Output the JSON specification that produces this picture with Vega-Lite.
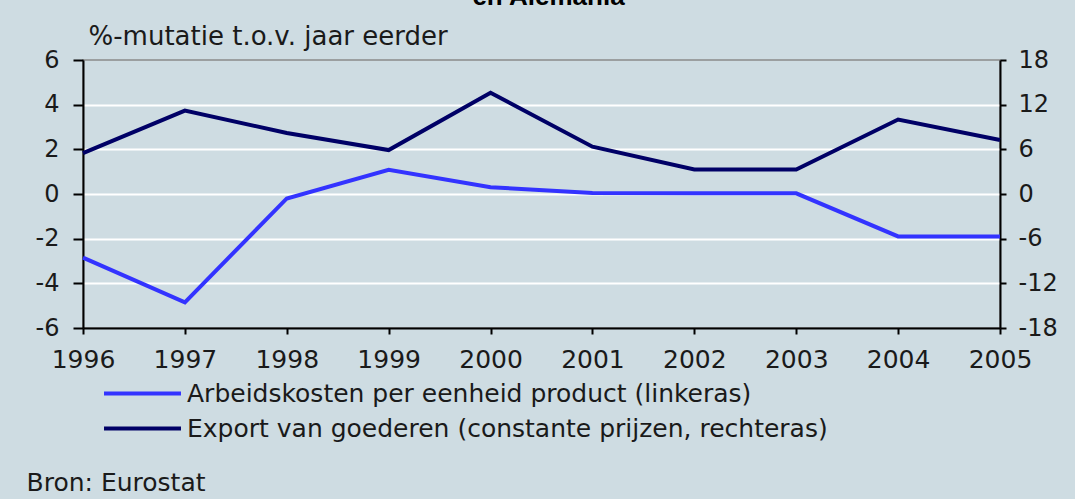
{
  "$schema": "https://vega.github.io/schema/vega-lite/v6.json",
  "width": 917,
  "height": 268,
  "autosize": {"type": "none"},
  "padding": {"left": 83, "top": 60, "right": 75, "bottom": 171},
  "background": "#cedce2",
  "title": {
    "text": "en Alemania",
    "font": "Liberation Sans",
    "fontSize": 26,
    "fontWeight": "bold",
    "color": "#000000",
    "anchor": "middle",
    "frame": "group",
    "baseline": "alphabetic",
    "offset": 6,
    "dy": 14,
    "dx": 7
  },
  "data": {
    "values": [
      {"jaar": 1996, "arbeid": -2.85, "export": 5.5},
      {"jaar": 1997, "arbeid": -4.85, "export": 11.2},
      {"jaar": 1998, "arbeid": -0.2, "export": 8.2},
      {"jaar": 1999, "arbeid": 1.08, "export": 5.9},
      {"jaar": 2000, "arbeid": 0.3, "export": 13.6},
      {"jaar": 2001, "arbeid": 0.05, "export": 6.35},
      {"jaar": 2002, "arbeid": 0.03, "export": 3.3},
      {"jaar": 2003, "arbeid": 0.03, "export": 3.3},
      {"jaar": 2004, "arbeid": -1.9, "export": 10.0},
      {"jaar": 2005, "arbeid": -1.9, "export": 7.25}
    ]
  },
  "encoding": {
    "x": {
      "field": "jaar",
      "type": "quantitative",
      "scale": {"domain": [1996, 2005], "nice": false, "zero": false},
      "axis": {
        "values": [1996, 1997, 1998, 1999, 2000, 2001, 2002, 2003, 2004, 2005],
        "format": "d",
        "grid": false,
        "tickSize": 6,
        "labelPadding": 13,
        "labelFlush": false,
        "labelFontSize": 25,
        "title": "Bron: Eurostat",
        "titleAnchor": "start",
        "titleAlign": "left",
        "titleBaseline": "alphabetic",
        "titleX": -57,
        "titleY": 162,
        "titleFont": "DejaVu Sans",
        "titleFontSize": 25,
        "titleFontWeight": "normal",
        "titleColor": "#1a1a1a"
      }
    }
  },
  "layer": [
    {
      "mark": {"type": "line", "strokeWidth": 4},
      "encoding": {
        "y": {
          "field": "arbeid",
          "type": "quantitative",
          "scale": {"domain": [-6, 6], "nice": false, "zero": false},
          "axis": {
            "orient": "left",
            "values": [-6, -4, -2, 0, 2, 4, 6],
            "labelExpr": "'' + datum.value",
            "grid": true,
            "gridColor": "#ffffff",
            "gridWidth": 2,
            "gridOpacity": {"condition": {"test": "abs(datum.value) == 6", "value": 0}, "value": 1},
            "tickSize": 10,
            "labelPadding": 14,
            "title": "%-mutatie t.o.v. jaar eerder",
            "titleAngle": 0,
            "titleAlign": "left",
            "titleAnchor": "start",
            "titleBaseline": "alphabetic",
            "titleX": 5,
            "titleY": -16,
            "titleFont": "DejaVu Sans",
            "titleFontSize": 26,
            "titleFontWeight": "normal",
            "titleColor": "#1a1a1a"
          }
        },
        "color": {"datum": "Arbeidskosten per eenheid product (linkeras)"}
      }
    },
    {
      "mark": {"type": "line", "strokeWidth": 4},
      "encoding": {
        "y": {
          "field": "export",
          "type": "quantitative",
          "scale": {"domain": [-18, 18], "nice": false, "zero": false},
          "axis": {
            "orient": "right",
            "values": [-18, -12, -6, 0, 6, 12, 18],
            "labelExpr": "'' + datum.value",
            "grid": false,
            "tickSize": 6,
            "labelPadding": 12,
            "title": null
          }
        },
        "color": {"datum": "Export van goederen (constante prijzen, rechteras)"}
      }
    }
  ],
  "resolve": {"scale": {"y": "independent", "color": "shared"}},
  "config": {
    "view": {"stroke": "#8a8a8a", "strokeWidth": 1.5},
    "range": {"category": ["#3333ff", "#000066"]},
    "axis": {
      "domainColor": "#000000",
      "domainWidth": 2,
      "tickColor": "#000000",
      "tickWidth": 2,
      "labelFont": "DejaVu Sans",
      "labelFontSize": 24,
      "labelColor": "#1a1a1a"
    },
    "legend": {
      "orient": "none",
      "legendX": 47,
      "legendY": 321,
      "direction": "vertical",
      "title": null,
      "padding": 0,
      "symbolType": "M-5,0H5",
      "symbolSize": 237,
      "symbolStrokeWidth": 4,
      "symbolFillColor": "transparent",
      "rowPadding": 9,
      "labelFont": "DejaVu Sans",
      "labelFontSize": 25,
      "labelColor": "#1a1a1a",
      "labelOffset": 32,
      "labelLimit": 2000
    }
  }
}
